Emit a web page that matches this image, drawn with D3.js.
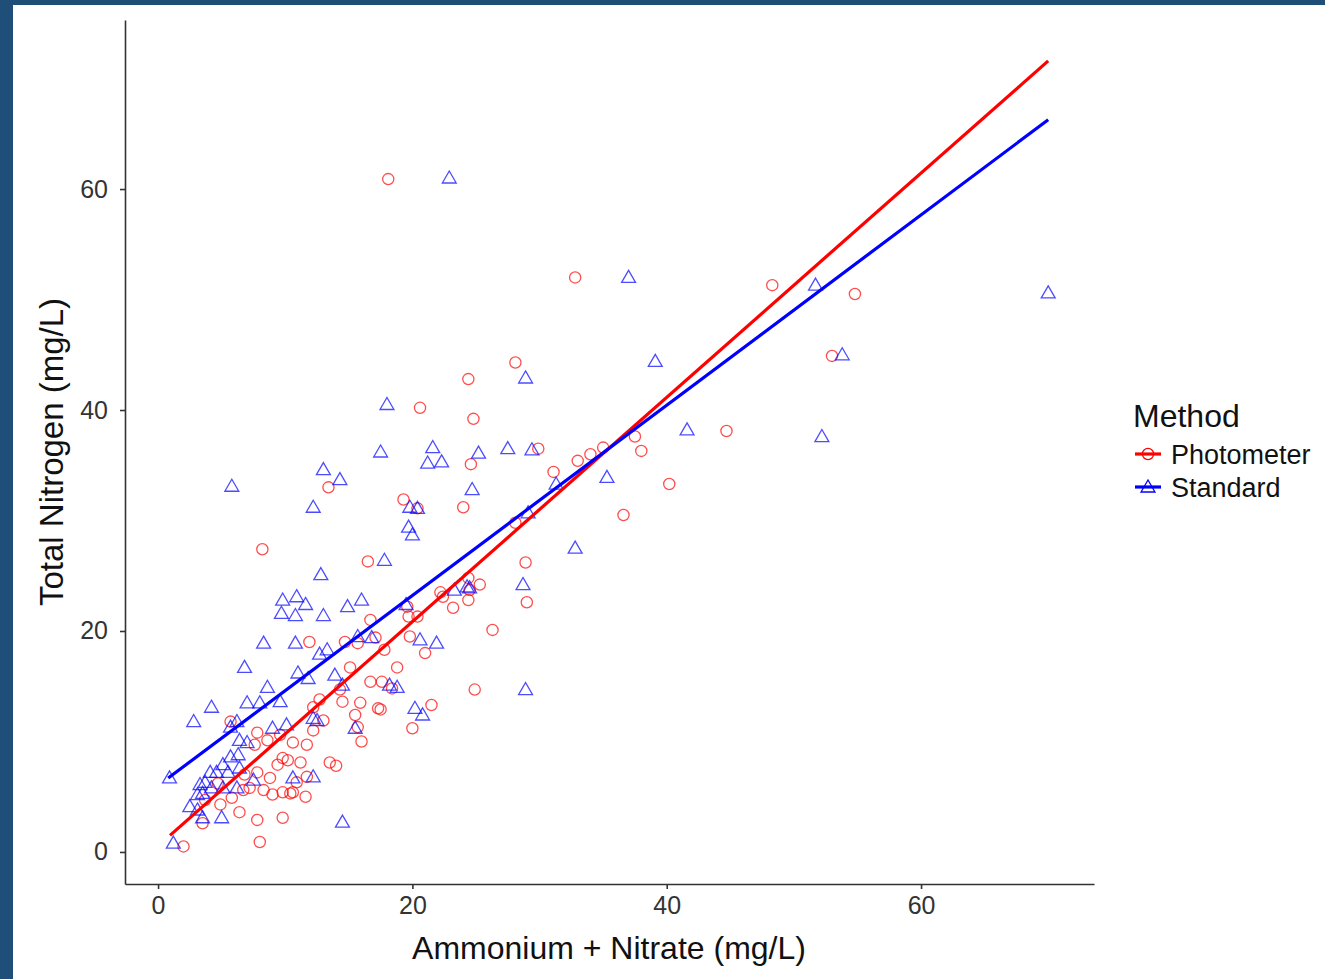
<!DOCTYPE html>
<html>
<head>
<meta charset="utf-8">
<script src="https://cdn.jsdelivr.net/npm/d3@7"></script>
<style>
  html, body { margin: 0; padding: 0; background: #fff; }
  svg text { font-family: "Liberation Sans", Arial, sans-serif; }
</style>
</head>
<body>
<svg id="chart" width="1325" height="979"></svg>
<script>
// Photometer readings: [ammonium + nitrate, total nitrogen]
const photometer = [
  [18.1,60.9],[32.8,52.0],[48.3,51.3],[54.8,50.5],[53.0,44.9],[28.1,44.3],[24.4,42.8],[20.6,40.2],
  [24.8,39.2],[44.7,38.1],[37.5,37.6],[38.0,36.3],[35.0,36.6],[29.9,36.5],[34.0,36.0],[33.0,35.4],
  [24.6,35.1],[40.2,33.3],[31.1,34.4],[13.4,33.0],[19.3,31.9],[20.4,31.1],[24.0,31.2],[36.6,30.5],
  [28.1,29.8],[8.2,27.4],[16.5,26.3],[28.9,26.2],[24.4,24.8],[25.3,24.2],[24.5,23.7],[24.4,22.8],
  [29.0,22.6],[23.2,22.1],[22.4,23.1],[26.3,20.1],[19.7,21.3],[20.4,21.3],[19.8,19.5],[21.0,18.0],
  [21.5,13.3],[24.9,14.7],[20.0,11.2],[18.8,16.7],[17.5,12.9],[17.1,19.4],[16.7,15.4],[17.6,15.4],
  [15.9,13.5],[14.5,13.6],[17.3,13.0],[16.0,10.0],[15.7,11.3],[13.5,8.1],[14.0,7.8],[11.7,9.7],
  [12.2,11.0],[14.7,19.0],[15.7,18.9],[17.8,18.3],[11.9,19.0],[15.1,16.7],[18.4,14.8],[13.0,11.9],
  [5.7,11.8],[7.8,10.8],[8.6,10.1],[9.6,10.6],[10.6,9.9],[7.6,9.7],[9.8,8.5],[9.4,7.9],
  [11.2,8.1],[7.8,7.2],[8.8,6.7],[10.9,6.3],[11.7,6.8],[7.2,5.8],[8.3,5.6],[9.0,5.2],
  [9.8,5.4],[10.6,5.4],[11.6,5.0],[6.4,3.6],[7.8,2.9],[9.8,3.1],[8.0,0.9],[2.0,0.5],
  [3.5,2.6],[4.9,4.3],[5.8,4.9],[16.7,21.0],[19.6,22.2],[4.7,6.2],[6.8,7.0],[3.7,4.7],
  [12.7,13.8],[14.3,14.7],[15.5,12.4],[22.2,23.5],[12.2,13.1],[10.4,5.3],[10.2,8.3],[6.7,5.6]
];

// Standard method readings
const standard = [
  [22.9,61.0],[37.0,52.0],[51.7,51.3],[70.0,50.6],[53.8,45.0],[39.1,44.4],[28.9,42.9],[18.0,40.5],
  [41.6,38.2],[52.2,37.6],[27.5,36.5],[29.4,36.4],[17.5,36.2],[21.6,36.6],[22.3,35.3],[21.2,35.2],
  [25.2,36.1],[35.3,33.9],[13.0,34.6],[14.3,33.7],[5.8,33.1],[24.7,32.8],[31.3,33.3],[12.2,31.2],
  [19.8,31.2],[20.4,31.1],[19.7,29.4],[20.0,28.7],[29.1,30.7],[32.8,27.5],[17.8,26.4],[12.8,25.1],
  [24.5,23.9],[28.7,24.2],[14.9,22.2],[16.0,22.8],[10.9,23.1],[9.8,22.8],[11.6,22.4],[9.7,21.6],
  [10.8,21.4],[13.0,21.4],[19.5,22.4],[21.9,18.9],[20.6,19.2],[10.8,18.9],[8.3,18.9],[15.7,19.5],
  [16.8,19.4],[6.8,16.7],[12.7,17.9],[11.0,16.2],[11.8,15.7],[8.6,14.9],[4.2,13.1],[2.8,11.8],
  [7.0,13.5],[8.0,13.5],[9.6,13.6],[5.7,11.3],[6.2,11.8],[6.4,10.1],[7.0,9.9],[9.0,11.2],
  [10.1,11.5],[12.2,12.1],[5.7,8.6],[6.3,8.8],[5.1,7.9],[4.1,7.2],[4.6,7.2],[5.5,7.2],
  [6.4,7.6],[3.3,6.1],[3.7,6.3],[4.2,5.8],[3.1,5.2],[3.5,5.3],[5.1,5.8],[6.2,5.8],
  [7.5,6.5],[2.5,4.1],[3.1,3.8],[3.5,3.1],[5.0,3.1],[0.9,6.7],[1.2,0.8],[10.6,6.7],
  [12.2,6.8],[14.5,2.7],[20.2,13.0],[20.8,12.4],[28.9,14.7],[15.5,11.2],[18.2,15.1],[18.8,14.9],
  [12.5,11.9],[23.3,23.7],[24.3,24.0],[13.9,16.0],[14.5,15.1],[13.3,18.3]
];

// linear fits (lm)
const methods    = ["Photometer", "Standard"];
const colors     = ["#ff0000", "#0000ff"];
const intercepts = [0.55, 6.0];
const slopes     = [1.015, 0.861];
const fitRanges  = [[0.94, 70.0], [0.8, 70.0]];

const xTicks = [0, 20, 40, 60];
const yTicks = [0, 20, 40, 60];

const svg = d3.select("#chart");

// dark blue frame on the left/top
svg.append("rect").attr("x", 0).attr("y", 0).attr("width", 1325).attr("height", 979).attr("fill", "#1f4e79");
svg.append("rect").attr("x", 13).attr("y", 5).attr("width", 1312).attr("height", 974).attr("fill", "#fff");

let x = d3.scaleLinear().domain([-2.6, 73.6]).range([125, 1094]);
let y = d3.scaleLinear().domain([-2.9, 75.3]).range([884, 20]);

let xAxis = svg.append("g")
    .attr("transform", "translate(0,884)")
    .call(d3.axisBottom(x).tickValues(xTicks).tickSize(5).tickSizeOuter(0).tickPadding(7));
let yAxis = svg.append("g")
    .attr("transform", "translate(125,0)")
    .call(d3.axisLeft(y).tickValues(yTicks).tickSize(5).tickSizeOuter(0).tickPadding(12));

[xAxis, yAxis].forEach(function (a) {
    a.select(".domain").attr("stroke", "#333").attr("stroke-width", 1.6);
    a.selectAll(".tick line").attr("stroke", "#333").attr("stroke-width", 1.6);
    a.selectAll(".tick text").attr("fill", "#333").style("font-size", "25px");
});

// points
const circleSym = d3.symbol().type(d3.symbolCircle).size(Math.PI * 5.6 * 5.6);
const triSym = d3.symbol().type(d3.symbolTriangle).size(84);

svg.append("g").selectAll("path")
    .data(photometer)
    .enter().append("path")
    .attr("d", circleSym)
    .attr("transform", d => "translate(" + x(d[0]) + "," + y(d[1]) + ")")
    .attr("fill", "none")
    .attr("stroke", colors[0])
    .attr("stroke-opacity", 0.7)
    .attr("stroke-width", 1.3);

svg.append("g").selectAll("path")
    .data(standard)
    .enter().append("path")
    .attr("d", triSym)
    .attr("transform", d => "translate(" + x(d[0]) + "," + (y(d[1]) + 1) + ")")
    .attr("fill", "none")
    .attr("stroke", colors[1])
    .attr("stroke-opacity", 0.7)
    .attr("stroke-width", 1.3);

// regression lines
let line = d3.line().x(d => x(d[0])).y(d => y(d[1]));
methods.forEach(function (m, i) {
    let pts = fitRanges[i].map(v => [v, intercepts[i] + slopes[i] * v]);
    svg.append("path")
        .attr("d", line(pts))
        .attr("fill", "none")
        .attr("stroke", colors[i])
        .attr("stroke-width", 3.2);
});

// axis titles
svg.append("text")
    .attr("x", 609).attr("y", 959)
    .attr("text-anchor", "middle")
    .style("font-size", "32px").attr("fill", "#111")
    .text("Ammonium + Nitrate (mg/L)");

svg.append("text")
    .attr("transform", "translate(63,452) rotate(-90)")
    .attr("text-anchor", "middle")
    .style("font-size", "33px").attr("fill", "#111")
    .text("Total Nitrogen (mg/L)");

// legend
let legend = svg.append("g").attr("transform", "translate(1133,0)");
legend.append("text")
    .attr("x", 0).attr("y", 427)
    .style("font-size", "32px").attr("fill", "#111")
    .text("Method");

methods.forEach(function (m, i) {
    let ly = 454 + i * 33;
    legend.append("line")
        .attr("x1", 2).attr("x2", 28).attr("y1", ly).attr("y2", ly)
        .attr("stroke", colors[i]).attr("stroke-width", 3.2);
    legend.append("path")
        .attr("d", i === 0 ? circleSym : triSym)
        .attr("transform", "translate(15," + (ly + (i === 0 ? 0 : 1)) + ")")
        .attr("fill", "none").attr("stroke", colors[i]).attr("stroke-width", 1.3);
    legend.append("text")
        .attr("x", 38).attr("y", ly + 10)
        .style("font-size", "27px").attr("fill", "#111")
        .text(m);
});
</script>
</body>
</html>
